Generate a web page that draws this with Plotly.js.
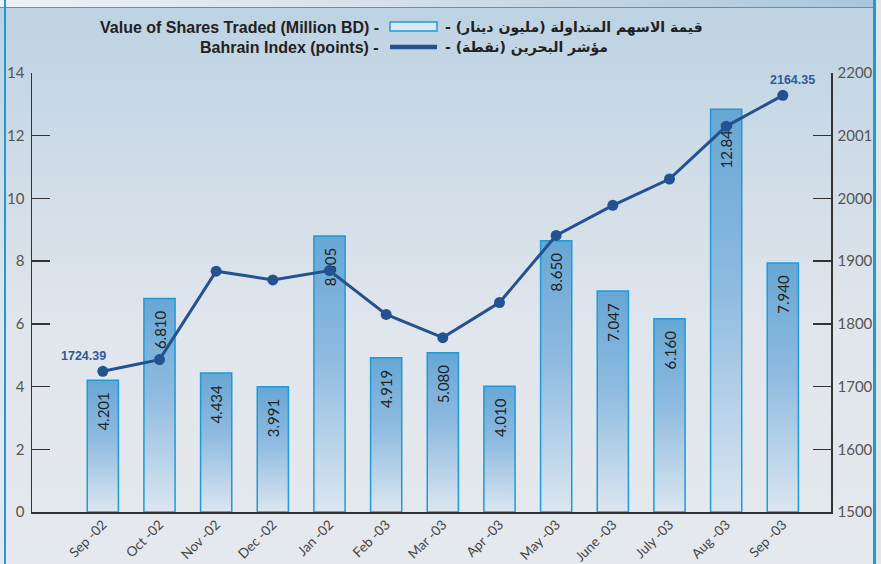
<!DOCTYPE html>
<html>
<head>
<meta charset="utf-8">
<script src="https://cdn.plot.ly/plotly-3.0.1.min.js"></script>
<style>
  html, body { margin: 0; padding: 0; }
  #wrap { position: relative; width: 881px; height: 564px; overflow: hidden;
    background: linear-gradient(to bottom, #bcd2e2 0%, #d3dee8 35%, #e1e6ec 60%, #e5e9ed 100%); }
  #band { position: absolute; left: 0; top: 0; width: 881px; height: 7px;
    background: linear-gradient(to right, #eef2f5 0%, #d3e0ea 45%, #a9c6dc 100%);
    border-bottom: 1.5px solid #3a9fd6; }
  #lb { position: absolute; left: 4px; top: 0; width: 2px; height: 564px; background: #1e9ad6; }
  #rb { position: absolute; left: 873px; top: 0; width: 3px; height: 564px; background: #1e9ad6; }
  #rout { position: absolute; left: 876px; top: 0; width: 5px; height: 564px; background: #dfe6ec; }
  #chart { position: absolute; left: 0; top: 0; width: 881px; height: 564px; }
</style>
</head>
<body>
<div id="wrap">
  <div id="band"></div>
  <div id="lb"></div>
  <div id="rb"></div>
  <div id="rout"></div>
  <div id="chart"></div>
</div>
<script>
// ---- data ----
const months = ["Sep -02", "Oct -02", "Nov -02", "Dec -02", "Jan -02", "Feb -03", "Mar -03",
                "Apr -03", "May -03", "June -03", "July -03", "Aug -03", "Sep -03"];
const sharesValue = [4.201, 6.810, 4.434, 3.991, 8.805, 4.919, 5.080, 4.010, 8.650, 7.047, 6.160, 12.846, 7.940];
const bahrainIndex = [1724.39, 1743, 1884, 1870, 1885, 1815, 1778, 1834, 1941, 1989, 2031, 2115, 2164.35];
const labeledPoints = [0, 12];
const leftTickVals = [0, 2, 4, 6, 8, 10, 12, 14];
const rightTickVals = [1500, 1600, 1700, 1800, 1900, 2000, 2100, 2200];
const rightTickText = ["1500", "1600", "1700", "1800", "1900", "2000", "2001", "2200"];
const legendEnglish = ["Value of Shares Traded (Million BD) -", "Bahrain Index (points) -"];
const legendArabic = ["- قيمة الاسهم المتداولة (مليون دينار)", "- مؤشر البحرين (نقطة)"];

// ---- styles ----
const lineColor = "#24518f";
const tickFont = { family: "Lato, 'Open Sans', sans-serif", size: 15, color: "#555" };

const bars = {
  type: "bar", x: months, y: sharesValue, yaxis: "y",
  width: 0.55,
  marker: { color: "#8fbbe0", line: { color: "#1e9ad6", width: 1.5 } },
  text: sharesValue.map(v => v.toFixed(3)),
  textposition: "inside", insidetextanchor: "end", textangle: -90,
  textfont: { family: "Lato, 'Open Sans', sans-serif", size: 15, color: "#222" },
  constraintext: "none",
  hoverinfo: "skip", showlegend: false
};

const line = {
  type: "scatter", mode: "lines+markers", x: months, y: bahrainIndex, yaxis: "y2",
  line: { color: lineColor, width: 3 },
  marker: { color: lineColor, size: 11 },
  hoverinfo: "skip", showlegend: false, cliponaxis: false
};

const pointAnnotations = labeledPoints.map((i, k) => ({
  x: months[i], y: bahrainIndex[i], xref: "x", yref: "y2",
  text: "<b>" + bahrainIndex[i].toFixed(2) + "</b>",
  showarrow: false, xanchor: "center", yanchor: "bottom",
  xshift: k === 0 ? -19 : 10, yshift: 6,
  font: { family: "Liberation Sans, Arial, sans-serif", size: 12.5, color: "#2d5a9a" }
}));

// legend (paper coords: plot area x 32..831, y 73..512)
const px = p => (p - 32) / 799;
const py = p => (512 - p) / 439;
const legendRows = [27, 47];
const legendAnnotations = [];
legendRows.forEach((yy, r) => {
  legendAnnotations.push({
    xref: "paper", yref: "paper", x: px(381), y: py(yy), xanchor: "right", yanchor: "middle",
    showarrow: false, text: "<b>" + legendEnglish[r] + "</b>",
    font: { family: "'Liberation Sans Narrow', 'Liberation Sans', Arial, sans-serif", size: 16, color: "#222" }
  });
  legendAnnotations.push({
    xref: "paper", yref: "paper", x: px(443), y: py(yy + 1), xanchor: "left", yanchor: "middle",
    showarrow: false, text: "<b>" + legendArabic[r] + "</b>",
    font: { family: "'DejaVu Sans', sans-serif", size: 14, color: "#222" }
  });
});

const shapes = [
  { type: "rect", xref: "paper", yref: "paper", x0: px(390), x1: px(437), y0: py(31), y1: py(22),
    fillcolor: "#dbe9f4", line: { color: "#1e9ad6", width: 1.5 } },
  { type: "line", xref: "paper", yref: "paper", x0: px(390), x1: px(437), y0: py(47), y1: py(47),
    line: { color: lineColor, width: 4.5 } }
];

const layout = {
  width: 881, height: 564, autosize: false,
  margin: { l: 32, r: 50, t: 73, b: 52, pad: 0 },
  paper_bgcolor: "rgba(0,0,0,0)", plot_bgcolor: "rgba(0,0,0,0)",
  showlegend: false,
  xaxis: {
    type: "category", range: [-1.25, 12.85], fixedrange: true,
    showline: true, linecolor: "#333", linewidth: 1.5, ticks: "", showgrid: false, zeroline: false,
    tickangle: -45, ticklabelstandoff: -2,
    tickfont: { family: "Lato, 'Open Sans', sans-serif", size: 13.5, color: "#444" }
  },
  yaxis: {
    range: [0, 14], tickvals: leftTickVals, showgrid: false, zeroline: false,
    showline: true, linecolor: "#333", linewidth: 1.5,
    ticks: "inside", ticklen: 18, tickwidth: 1.5, tickcolor: "#333",
    tickfont: tickFont, ticklabelstandoff: 3
  },
  yaxis2: {
    overlaying: "y", side: "right", range: [1500, 2200],
    tickvals: rightTickVals, ticktext: rightTickText, showgrid: false, zeroline: false,
    showline: true, linecolor: "#333", linewidth: 1.5,
    ticks: "inside", ticklen: 18, tickwidth: 1.5, tickcolor: "#333",
    tickfont: tickFont, ticklabelstandoff: 2
  },
  annotations: pointAnnotations.concat(legendAnnotations),
  shapes: shapes
};

Plotly.newPlot("chart", [bars, line], layout, { staticPlot: true, displayModeBar: false }).then(gd => {
  const NS = "http://www.w3.org/2000/svg";
  const svg = gd.querySelector("svg.main-svg");
  let defs = svg.querySelector("defs");
  if (!defs) { defs = document.createElementNS(NS, "defs"); svg.insertBefore(defs, svg.firstChild); }
  const grad = document.createElementNS(NS, "linearGradient");
  grad.setAttribute("id", "barGrad");
  grad.setAttribute("x1", "0"); grad.setAttribute("y1", "0");
  grad.setAttribute("x2", "0"); grad.setAttribute("y2", "1");
  [["0%", "#67a7d4"], ["45%", "#8fbbe0"], ["100%", "#dbe6f0"]].forEach(([o, c]) => {
    const s = document.createElementNS(NS, "stop");
    s.setAttribute("offset", o); s.setAttribute("stop-color", c);
    grad.appendChild(s);
  });
  defs.appendChild(grad);
  gd.querySelectorAll(".barlayer .trace.bars .point path").forEach(p => {
    p.style.fill = "url(#barGrad)";
  });
  // a little more inner padding for the value labels, as in the original
  gd.querySelectorAll(".barlayer .trace.bars .point text").forEach(t => {
    const tr = t.getAttribute("transform") || "";
    t.setAttribute("transform", "translate(0,9) " + tr);
  });
});
</script>
</body>
</html>
